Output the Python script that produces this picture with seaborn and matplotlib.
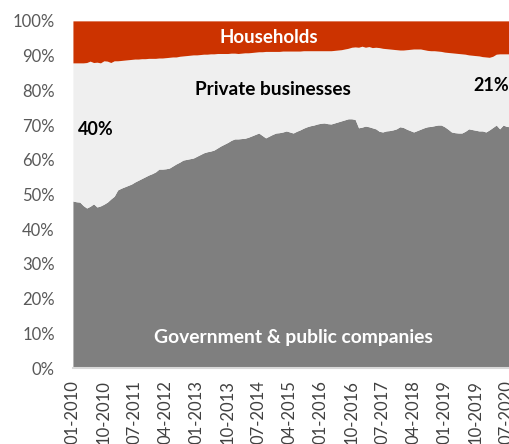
import matplotlib
matplotlib.use("Agg")
import matplotlib.pyplot as plt
import numpy as np
import pandas as pd
import seaborn as sns

# monthly shares (%), 01-2010 .. 08-2020
government = [
    48.1, 47.9, 47.8, 46.8, 46.1, 46.6, 47.3, 46.4, 46.7, 47.2, 47.8, 48.7,
    49.5, 51.3, 51.8, 52.2, 52.6, 53.0, 53.6, 54.1, 54.6, 55.1, 55.6, 56.0,
    56.5, 57.3, 57.3, 57.4, 57.6, 58.2, 58.8, 59.3, 59.9, 60.1, 60.3, 60.5,
    61.0, 61.5, 62.0, 62.3, 62.5, 62.8, 63.4, 64.0, 64.5, 65.0, 65.6, 66.0,
    66.0, 66.1, 66.2, 66.5, 66.9, 67.3, 67.7, 67.0, 66.3, 66.8, 67.3, 67.7,
    67.8, 68.0, 68.3, 68.0, 67.7, 68.2, 68.6, 69.1, 69.5, 69.8, 70.0, 70.3,
    70.5, 70.6, 70.4, 70.3, 70.6, 70.9, 71.2, 71.5, 71.8, 71.8, 71.6, 69.2,
    69.4, 69.7, 69.5, 69.2, 68.9, 68.2, 68.0, 68.3, 68.4, 68.6, 68.9, 69.5,
    69.3, 68.8, 68.4, 68.0, 68.4, 68.8, 69.2, 69.5, 69.6, 69.8, 70.0, 70.0,
    69.5, 68.8, 68.0, 67.8, 67.7, 67.7, 68.2, 68.9, 68.7, 68.5, 68.3, 68.3,
    68.0, 68.6, 69.3, 70.0, 68.9, 70.0, 69.6, 69.5,
]
households = [
    12.1, 12.1, 12.1, 12.1, 12.0, 11.6, 12.0, 11.9, 12.1, 11.5, 11.6, 12.0,
    11.5, 11.5, 11.4, 11.3, 11.2, 11.1, 11.0, 11.0, 10.9, 10.9, 10.8, 10.8,
    10.8, 10.7, 10.7, 10.6, 10.5, 10.4, 10.4, 10.2, 10.1, 10.0, 9.9, 9.8,
    9.8, 9.7, 9.6, 9.6, 9.5, 9.5, 9.4, 9.4, 9.4, 9.4, 9.3, 9.3,
    9.4, 9.3, 9.2, 9.2, 9.1, 9.0, 8.9, 8.9, 8.8, 8.8, 8.8, 8.8,
    8.8, 8.7, 8.7, 8.7, 8.7, 8.7, 8.7, 8.6, 8.6, 8.6, 8.6, 8.6,
    8.6, 8.6, 8.6, 8.6, 8.5, 8.4, 8.3, 8.1, 7.9, 7.6, 7.5, 7.6,
    7.3, 7.6, 7.4, 7.7, 7.6, 7.7, 7.9, 8.0, 8.1, 8.2, 8.3, 8.4,
    8.4, 8.3, 8.2, 8.1, 8.1, 8.1, 8.3, 8.5, 8.6, 8.6, 8.7, 8.8,
    9.0, 9.1, 9.2, 9.3, 9.4, 9.5, 9.6, 9.8, 9.9, 10.0, 10.1, 10.3,
    10.4, 10.5, 10.2, 9.6, 9.5, 9.5, 9.5, 9.5,
]
months = pd.date_range("2010-01-01", periods=len(government), freq="MS")
tick_labels = list(months[::9].strftime("%m-%Y"))

gov = np.array(government)
hh = np.array(households)
private = 100 - gov - hh

sns.set_theme(style="white")
plt.rcParams["font.family"] = ["Lato", "DejaVu Sans"]

fig = plt.figure(figsize=(5.1, 4.44), dpi=100)
ax = fig.add_axes([0.143, 0.171, 0.857, 0.782])

x = np.arange(len(gov))
ax.stackplot(x, gov, private, hh,
             colors=["#7f7f7f", "#efefef", "#cc3300"], linewidth=0)

ax.set_xlim(0, len(gov) - 1)
ax.set_ylim(0, 100)
ax.set_yticks(np.arange(0, 101, 10))
ax.set_yticklabels([f"{v}%" for v in range(0, 101, 10)])
ax.set_xticks(x[::9])
ax.set_xticklabels(tick_labels, rotation=90)
ax.tick_params(axis="y", length=0, pad=13, labelsize=12, labelcolor="#595959")
ax.tick_params(axis="x", length=0, pad=9, labelsize=12, labelcolor="#404040")

for s in ["top", "right", "left"]:
    ax.spines[s].set_visible(False)
ax.spines["bottom"].set_color("#d9d9d9")
ax.spines["bottom"].set_linewidth(1.5)

ax.text(57, 95.1, "Households", color="white", fontsize=13.5,
        fontweight="bold", ha="center", va="center")
ax.text(58, 80.1, "Private businesses", color="black", fontsize=13.7,
        fontweight="bold", ha="center", va="center")
ax.text(1.5, 68.6, "40%", color="black", fontsize=13,
        fontweight="bold", ha="left", va="center")
ax.text(121.6, 81.3, "21%", color="black", fontsize=13,
        fontweight="bold", ha="center", va="center")
ax.text(64, 8.9, "Government & public companies", color="white",
        fontsize=13.9, fontweight="bold", ha="center", va="center")

fig.savefig("out.png", dpi=100)
